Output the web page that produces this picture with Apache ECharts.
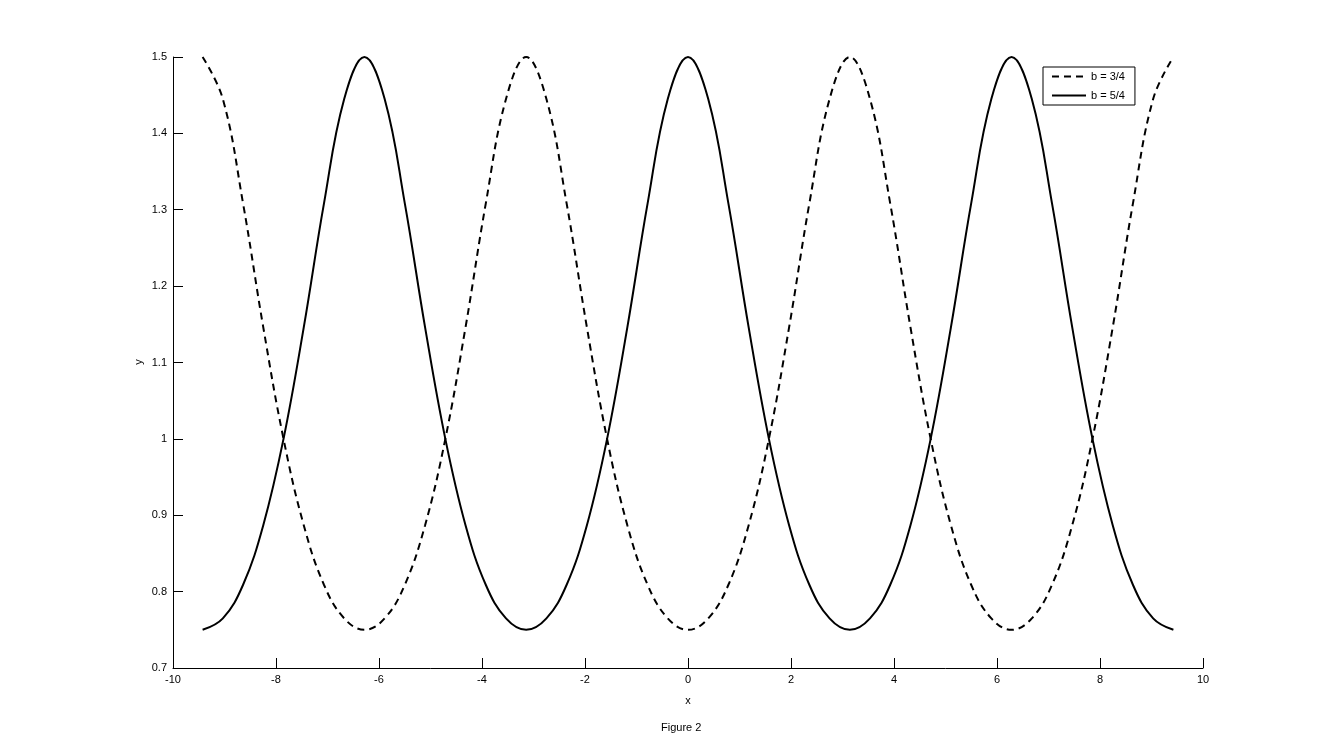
<!DOCTYPE html>
<html>
<head>
<meta charset="utf-8">
<script src="https://cdn.jsdelivr.net/npm/echarts@6/dist/echarts.min.js"></script>
<style>
  html, body { margin: 0; padding: 0; background: #fff; }
  #main { width: 1329px; height: 750px; }
</style>
</head>
<body>
<div id="main"></div>
<script>
// x 取值（-3π 到 3π）
var xs = [-9.425, -9.032, -8.639, -8.247, -7.854, -7.461, -7.069, -6.676, -6.283,
  -5.890, -5.498, -5.105, -4.712, -4.320, -3.927, -3.534, -3.142,
  -2.749, -2.356, -1.963, -1.571, -1.178, -0.785, -0.393, 0,
  0.393, 0.785, 1.178, 1.571, 1.963, 2.356, 2.749, 3.142,
  3.534, 3.927, 4.320, 4.712, 5.105, 5.498, 5.890, 6.283,
  6.676, 7.069, 7.461, 7.854, 8.247, 8.639, 9.032, 9.425];
// b = 3/4 (虚线)
var yDash = [1.5, 1.445, 1.308, 1.146, 1.0, 0.887, 0.809, 0.765, 0.75,
  0.765, 0.809, 0.887, 1.0, 1.146, 1.308, 1.445, 1.5,
  1.445, 1.308, 1.146, 1.0, 0.887, 0.809, 0.765, 0.75,
  0.765, 0.809, 0.887, 1.0, 1.146, 1.308, 1.445, 1.5,
  1.445, 1.308, 1.146, 1.0, 0.887, 0.809, 0.765, 0.75,
  0.765, 0.809, 0.887, 1.0, 1.146, 1.308, 1.445, 1.5];
// b = 5/4 (实线)
var ySolid = [0.75, 0.765, 0.809, 0.887, 1.0, 1.146, 1.308, 1.445, 1.5,
  1.445, 1.308, 1.146, 1.0, 0.887, 0.809, 0.765, 0.75,
  0.765, 0.809, 0.887, 1.0, 1.146, 1.308, 1.445, 1.5,
  1.445, 1.308, 1.146, 1.0, 0.887, 0.809, 0.765, 0.75,
  0.765, 0.809, 0.887, 1.0, 1.146, 1.308, 1.445, 1.5,
  1.445, 1.308, 1.146, 1.0, 0.887, 0.809, 0.765, 0.75];
var seriesNames = ['b = 3/4', 'b = 5/4'];

function pairs(ys) {
  var out = [];
  for (var i = 0; i < xs.length; i++) out.push([xs[i], ys[i]]);
  return out;
}

var font = 'Liberation Sans, Arial, sans-serif';
var myChart = echarts.init(document.getElementById('main'));
myChart.setOption({
  animation: false,
  backgroundColor: '#fff',
  textStyle: { fontFamily: font, color: '#000' },
  grid: { left: 173, right: 126, top: 57, bottom: 82 },
  legend: {
    data: seriesNames,
    orient: 'vertical',
    left: 1043,
    top: 67,
    borderColor: '#000',
    borderWidth: 1,
    borderRadius: 0,
    padding: [4, 10, 4, 8],
    itemWidth: 34,
    itemHeight: 10,
    itemGap: 8,
    itemStyle: { color: 'transparent', borderWidth: 0, opacity: 0 },
    textStyle: { fontSize: 11, color: '#000', fontFamily: font }
  },
  xAxis: {
    type: 'value',
    min: -10, max: 10, interval: 2,
    name: 'x',
    nameLocation: 'middle',
    nameGap: 27,
    nameTextStyle: { fontSize: 11, color: '#000' },
    axisLine: { show: true, onZero: false, lineStyle: { color: '#000', width: 1 } },
    axisTick: { show: true, inside: true, length: 10, lineStyle: { color: '#000' } },
    axisLabel: { fontSize: 11, color: '#000', margin: 6 },
    splitLine: { show: false }
  },
  yAxis: {
    type: 'value',
    min: 0.7, max: 1.5, interval: 0.1,
    axisLine: { show: true, onZero: false, lineStyle: { color: '#000', width: 1 } },
    axisTick: { show: true, inside: true, length: 10, lineStyle: { color: '#000' } },
    axisLabel: { fontSize: 11, color: '#000', margin: 6 },
    splitLine: { show: false }
  },
  graphic: [
    {
      // y 轴标题
      type: 'text',
      x: 139,
      y: 362,
      rotation: Math.PI / 2,
      style: { text: 'y', font: '11px ' + font, fill: '#000', align: 'center', verticalAlign: 'middle' }
    },
    {
      type: 'text',
      left: 661,
      top: 722,
      style: { text: 'Figure 2', font: '11px ' + font, fill: '#000' }
    }
  ],
  series: [
    {
      name: seriesNames[0],
      type: 'line',
      showSymbol: false,
      symbol: 'none',
      smooth: 0.4,
      clip: false,
      color: '#000',
      lineStyle: { color: '#000', width: 2, type: [7, 5] },
      data: pairs(yDash)
    },
    {
      name: seriesNames[1],
      type: 'line',
      showSymbol: false,
      symbol: 'none',
      smooth: 0.4,
      clip: false,
      color: '#000',
      lineStyle: { color: '#000', width: 2, type: 'solid' },
      data: pairs(ySolid)
    }
  ]
});
</script>
</body>
</html>
